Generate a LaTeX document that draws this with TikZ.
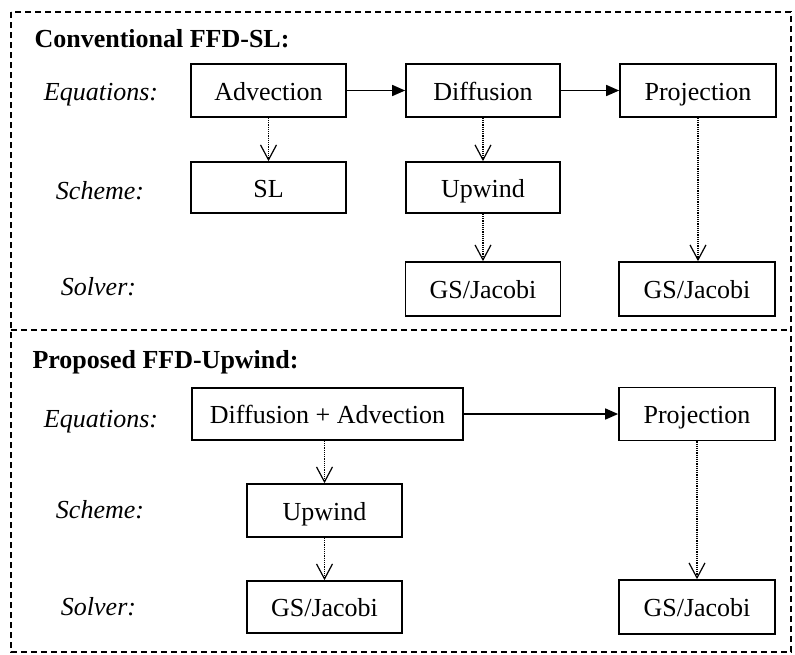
\documentclass[tikz,border=0pt]{standalone}
\usepackage{fontspec}
\setmainfont{Liberation Serif}
\usetikzlibrary{arrows.meta}
\begin{document}
\begin{tikzpicture}[x=1pt,y=-1pt,
  every node/.style={font=\fontsize{26}{30}\selectfont},
  box/.style={draw,line width=1.7pt,inner sep=0pt,anchor=center,
    text height=19pt,text depth=0pt},
  rowlabel/.style={anchor=base,font=\fontsize{26}{30}\selectfont\itshape},
  title/.style={anchor=base west,font=\fontsize{26}{30}\selectfont\bfseries},
  flow/.style={line width=1.6pt,-{Triangle[length=13pt,width=11pt]}},
  link/.style={line width=1.6pt,dash pattern=on 1.2pt off 1pt,
    -{Straight Barb[length=15pt,width=16pt,line width=1.2pt]}},
  frame/.style={line width=1.5pt,dash pattern=on 6pt off 4pt}]
\useasboundingbox (0,0) rectangle (795,654);

% outer dashed frame and section divider
\draw[frame] (11,12) rectangle (791,652);
\draw[frame] (11,330) -- (791,330);

% ---- conventional scheme ----
\node[title] (t1) at (31,47) {Conventional FFD-SL:};
\node[rowlabel] (eq1) at (101,100) {Equations:};
\node[rowlabel] (sc1) at (100,199) {Scheme:};
\node[rowlabel] (so1) at (98.5,295) {Solver:};

\node[box,minimum width=155pt,minimum height=53pt] (adv) at (268.5,90.5) {Advection};
\node[box,minimum width=154pt,minimum height=53pt] (dif) at (483,90.5) {Diffusion};
\node[box,minimum width=156pt,minimum height=53pt] (prj1) at (698,90.5) {Projection};
\node[box,minimum width=155pt,minimum height=51pt] (sl) at (268.5,187.5) {SL};
\node[box,minimum width=154pt,minimum height=51pt] (upw1) at (483,187.5) {Upwind};
\node[box,minimum width=155pt,minimum height=54pt] (gs1) at (483,289) {GS/Jacobi};
\node[box,minimum width=156pt,minimum height=54pt] (gs2) at (697,289) {GS/Jacobi};

\draw[flow] (adv.east) -- (dif.west);
\draw[flow] (dif.east) -- (prj1.west);
\draw[link] (adv.south) -- (sl.north);
\draw[link] (dif.south) -- (upw1.north);
\draw[link] (upw1.south) -- (gs1.north);
\draw[link] (prj1.south) -- (prj1.south |- gs2.north);

% ---- proposed scheme ----
\node[title] (t2) at (29,368) {Proposed FFD-Upwind:};
\node[rowlabel] (eq2) at (101,427) {Equations:};
\node[rowlabel] (sc2) at (100,518) {Scheme:};
\node[rowlabel] (so2) at (98.5,615) {Solver:};

\node[box,minimum width=271pt,minimum height=52pt] (da) at (327.5,414) {Diffusion + Advection};
\node[box,minimum width=156pt,minimum height=53pt] (prj2) at (697,414) {Projection};
\node[box,minimum width=155pt,minimum height=53pt] (upw2) at (324.5,510.5) {Upwind};
\node[box,minimum width=155pt,minimum height=52pt] (gs3) at (324.5,607) {GS/Jacobi};
\node[box,minimum width=156pt,minimum height=54pt] (gs4) at (697,607) {GS/Jacobi};

\draw[flow] (da.east) -- (prj2.west);
\draw[link] (upw2.north |- da.south) -- (upw2.north);
\draw[link] (upw2.south) -- (gs3.north);
\draw[link] (prj2.south) -- (gs4.north);
\end{tikzpicture}
\end{document}
